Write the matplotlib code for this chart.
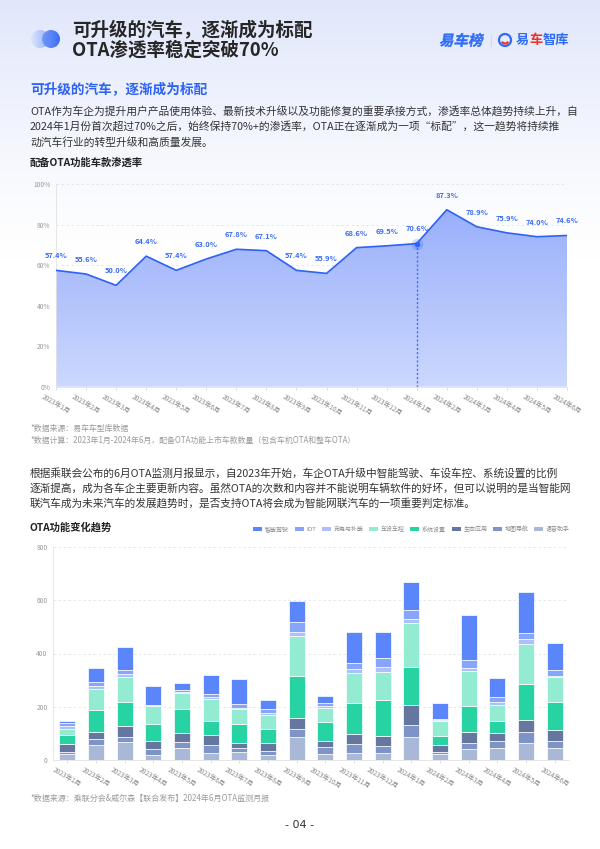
import numpy as np
import matplotlib
matplotlib.use('Agg')
import matplotlib.pyplot as plt
from matplotlib.colors import LinearSegmentedColormap
from matplotlib.patches import Circle, Patch, Arc, PathPatch
from matplotlib.textpath import TextPath
from matplotlib.font_manager import FontProperties
from matplotlib.transforms import Affine2D

plt.rcParams['font.family'] = ['Noto Sans CJK SC', 'DejaVu Sans']

# --- 数据 ---
months = ['2023年1月', '2023年2月', '2023年3月', '2023年4月', '2023年5月', '2023年6月',
          '2023年7月', '2023年8月', '2023年9月', '2023年10月', '2023年11月', '2023年12月',
          '2024年1月', '2024年2月', '2024年3月', '2024年4月', '2024年5月', '2024年6月']

# 配备OTA功能车款渗透率 (%)
ota_rate = [57.4, 55.6, 50.0, 64.4, 57.4, 63.0, 67.8, 67.1, 57.4, 55.9,
            68.6, 69.5, 70.6, 87.3, 78.9, 75.9, 74.0, 74.6]

# OTA功能变化趋势 (次数, 按图读取)
smart_drive = [9, 51, 88, 71, 26, 73, 94, 31, 79, 28, 113, 100, 105, 59, 169, 73, 154, 100]
iot = [10, 15, 14, 2, 6, 9, 16, 16, 38, 10, 26, 31, 33, 5, 30, 18, 24, 23]
charging = [10, 13, 10, 2, 4, 10, 4, 8, 13, 9, 13, 19, 18, 5, 11, 11, 18, 4]
vehicle_ctrl = [23, 76, 97, 70, 60, 80, 55, 54, 150, 51, 113, 108, 163, 53, 132, 59, 150, 94]
system_set = [36, 84, 87, 63, 89, 55, 71, 53, 158, 71, 117, 135, 143, 36, 98, 46, 135, 104]
eco_app = [29, 26, 43, 29, 35, 36, 19, 30, 43, 24, 36, 38, 75, 26, 41, 31, 45, 44]
map_nav = [6, 21, 18, 24, 23, 29, 16, 13, 29, 24, 33, 23, 45, 6, 23, 25, 41, 26]
voice = [24, 58, 68, 18, 45, 28, 29, 19, 87, 24, 28, 28, 87, 24, 41, 45, 64, 44]

series_names = ['智能驾驶', 'IOT', '充电与补能', '车设车控', '系统设置', '生态应用', '地图导航', '语音助手']
series_vals = [smart_drive, iot, charging, vehicle_ctrl, system_set, eco_app, map_nav, voice]
series_colors = ['#5b86fb', '#87a5fb', '#adc0fb', '#93ebd1', '#27d3a2', '#65779f', '#7e94c7', '#aab8d8']

W, H = 600, 849
fig = plt.figure(figsize=(W / 100, H / 100), dpi=100)

# --- 背景层 (像素坐标) ---
bg = fig.add_axes([0, 0, 1, 1], zorder=0)
rows = np.arange(H)
t = np.clip(1 - rows / 260, 0, 1) ** 1.3
top = np.array([0.88, 0.905, 0.985])
grad = (1 - t)[:, None] + t[:, None] * top[None, :]
bg.imshow(grad[:, None, :], extent=[0, W, H, 0], aspect='auto')

# 标题左侧两个圆
for cx, c0, c1 in [(40, '#dbe5fe', '#8eabfa'), (51, '#6f96f9', '#2b63f5')]:
    circ = Circle((cx, 39), 9, facecolor='none', edgecolor='none')
    bg.add_patch(circ)
    cm = LinearSegmentedColormap.from_list('c', [c0, c1])
    im = bg.imshow(np.linspace(0, 1, 50)[None, :], extent=[cx - 9, cx + 9, 48, 30],
                   cmap=cm, aspect='auto', alpha=0.92)
    im.set_clip_path(circ)

bg.text(72, 29.5, '可升级的汽车，逐渐成为标配', fontsize=13.3, color='#262626',
        fontweight='bold', va='center', ha='left')
bg.text(72, 50, 'OTA渗透率稳定突破70%', fontsize=13.3, color='#262626',
        fontweight='bold', va='center', ha='left')

# 右上角标志 (斜体的“易车榜”)
bold_fp = FontProperties(family='Noto Sans CJK SC', weight='bold')
tp = TextPath((0, 0), '易车榜', size=14.5, prop=bold_fp)
tr = Affine2D().skew_deg(12, 0).scale(1, -1).translate(439, 45.5)
bg.add_patch(PathPatch(tr.transform_path(tp), facecolor='#2e6bf6', edgecolor='#2e6bf6', lw=0.3))
bg.plot([491, 491], [35, 46], color='#d5d9e6', lw=0.8)
bg.add_patch(Circle((505, 40), 6, fill=False, edgecolor='#2e6bf6', lw=1.6))
bg.add_patch(Arc((505, 40.5), 6.5, 6, theta1=20, theta2=160, color='#f0302a', lw=1.6))
bg.text(516, 40, '易', fontsize=9.5, color='#2e6bf6', fontweight='bold', va='center', ha='left')
bg.text(529.2, 40, '车', fontsize=9.5, color='#f0302a', fontweight='bold', va='center', ha='left')
bg.text(542.4, 40, '智库', fontsize=9.5, color='#2e6bf6', fontweight='bold', va='center', ha='left')

# 正文
bg.text(30, 90, '可升级的汽车，逐渐成为标配', fontsize=9.8, color='#2e62f5', fontweight='bold', va='center')
para1 = ['OTA作为车企为提升用户产品使用体验、最新技术升级以及功能修复的重要承接方式，渗透率总体趋势持续上升，自',
         '2024年1月份首次超过70%之后，始终保持70%+的渗透率，OTA正在逐渐成为一项“标配”，这一趋势将持续推',
         '动汽车行业的转型升级和高质量发展。']
for i, line in enumerate(para1):
    bg.text(30, 111 + i * 15.5, line, fontsize=7.75, color='#333333', va='center')

bg.text(30, 163, '配备OTA功能车款渗透率', fontsize=7.4, color='#222222', fontweight='bold', va='center')
bg.text(30, 428, '*数据来源：易车车型库数据', fontsize=5.7, color='#9a9a9a', va='center')
bg.text(30, 440, '*数据计算：2023年1月-2024年6月，配备OTA功能上市车款数量（包含车机OTA和整车OTA）',
        fontsize=5.7, color='#9a9a9a', va='center')

para2 = ['根据乘联会公布的6月OTA监测月报显示，自2023年开始，车企OTA升级中智能驾驶、车设车控、系统设置的比例',
         '逐渐提高，成为各车企主要更新内容。虽然OTA的次数和内容并不能说明车辆软件的好坏，但可以说明的是当智能网',
         '联汽车成为未来汽车的发展趋势时，是否支持OTA将会成为智能网联汽车的一项重要判定标准。']
for i, line in enumerate(para2):
    bg.text(30, 473 + i * 15, line, fontsize=7.7, color='#333333', va='center')

bg.text(30, 527, 'OTA功能变化趋势', fontsize=7.4, color='#222222', fontweight='bold', va='center')
bg.text(30, 798, '*数据来源：乘联分会&威尔森【联合发布】2024年6月OTA监测月报',
        fontsize=5.8, color='#9a9a9a', va='center')
bg.text(300, 825, '- 04 -', fontsize=8, color='#333333', va='center', ha='center', family='DejaVu Sans')

bg.set_xlim(0, W)
bg.set_ylim(H, 0)
bg.axis('off')

x = np.arange(len(months))


def style_axis(ax, yticks, ylabels):
    ax.set_facecolor('none')
    for s in ['top', 'right']:
        ax.spines[s].set_visible(False)
    for s in ['left', 'bottom']:
        ax.spines[s].set_color('#e2e2e2')
        ax.spines[s].set_linewidth(0.6)
    ax.set_yticks(yticks)
    ax.set_yticklabels(ylabels)
    ax.tick_params(axis='y', length=0, labelsize=4.8, labelcolor='#9a9a9a', pad=4)
    ax.tick_params(axis='x', length=2.5, width=0.5, color='#d0d0d0', labelsize=4.8,
                   labelcolor='#8a8a8a', pad=2)
    ax.yaxis.grid(True, linestyle=(0, (3, 3)), color='#e3e3e3', linewidth=0.6)
    ax.set_axisbelow(True)
    ax.set_xticks(x)
    ax.set_xticklabels(months, rotation=-30, ha='center', va='top')


# --- 渗透率面积图 ---
ax1 = fig.add_axes([56 / W, 1 - 386.7 / H, 511 / W, 202.7 / H], zorder=1)
poly = ax1.fill_between(x, ota_rate, 0, color='none', lw=0)
cm_area = LinearSegmentedColormap.from_list('area', ['#ccd8fe', '#98aefb'])
im = ax1.imshow(np.linspace(0, 1, 256)[:, None], extent=[0, 17, 0, 90], origin='lower',
                aspect='auto', cmap=cm_area, zorder=1)
im.set_clip_path(poly.get_paths()[0], transform=ax1.transData)
ax1.plot(x, ota_rate, color='#2d62f5', lw=1.2, zorder=3)
for xi, v in zip(x, ota_rate):
    ax1.annotate(f'{v:.1f}%', (xi, v), xytext=(0, 8), textcoords='offset points',
                 ha='center', va='bottom', fontsize=5.4, color='#3b6cf6', fontweight='bold', zorder=5)
hi = 12
ax1.vlines(hi, 0, ota_rate[hi], colors='#3f6ff6', linestyles=(0, (1.5, 1.5)), lw=1, zorder=3)
ax1.scatter([hi], [ota_rate[hi]], s=70, color='#2d62f5', alpha=0.22, zorder=4, lw=0)
ax1.scatter([hi], [ota_rate[hi]], s=16, color='#2d62f5', zorder=4, lw=0)
style_axis(ax1, np.arange(0, 101, 20), [f'{v}%' for v in range(0, 101, 20)])
ax1.set_xlim(0, 17)
ax1.set_ylim(0, 100)

# --- OTA功能堆叠柱状图 ---
ax2 = fig.add_axes([53 / W, 1 - 760 / H, 516 / W, 213 / H], zorder=1)
bottom = np.zeros(len(months))
handles = []
for name, vals, col in reversed(list(zip(series_names, series_vals, series_colors))):
    ax2.bar(x, vals, 0.55, bottom=bottom, color=col, edgecolor='white', linewidth=0.5, zorder=2)
    bottom += np.array(vals)
for name, col in zip(series_names, series_colors):
    handles.append(Patch(facecolor=col, edgecolor='none', label=name))
style_axis(ax2, np.arange(0, 801, 200), [str(v) for v in range(0, 801, 200)])
ax2.set_xlim(-0.5, 17.5)
ax2.set_ylim(0, 800)

leg = fig.legend(handles=handles, loc='center right', bbox_to_anchor=(570 / W, 1 - 529 / H),
                 ncol=8, frameon=False, fontsize=4.3, handlelength=1.5, handleheight=0.45,
                 handletextpad=0.45, columnspacing=0.95, borderpad=0, borderaxespad=0)
for txt in leg.get_texts():
    txt.set_color('#8a8a8a')

fig.savefig('out.png', dpi=100)
